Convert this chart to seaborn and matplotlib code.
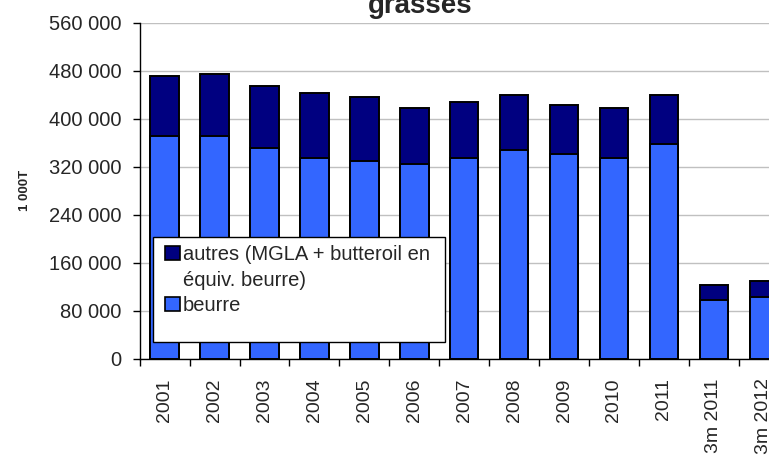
import numpy as np
import pandas as pd
import matplotlib
matplotlib.use("Agg")
import matplotlib.pyplot as plt
from matplotlib.patches import Patch, Rectangle
from matplotlib.ticker import FuncFormatter
import seaborn as sns

# Stocks de matières grasses (1 000 T)
periodes = ["2001", "2002", "2003", "2004", "2005", "2006", "2007", "2008",
            "2009", "2010", "2011", "3m 2011", "3m 2012"]
total = [470700, 474000, 454900, 443000, 437000, 418500, 427800, 440300,
         422200, 418500, 440300, 123600, 129000]
beurre = [370400, 370400, 351000, 334600, 329500, 325000, 334600, 347700,
          341400, 334600, 358500, 98000, 103500]
yticks = [0, 80000, 160000, 240000, 320000, 400000, 480000, 560000]

label_autres = ["autres (MGLA + butteroil en", "équiv. beurre)"]
label_beurre = "beurre"
col_autres = "#000080"
col_beurre = "#3366FF"

df = pd.DataFrame({"periode": periodes, "total": total, "beurre": beurre})

sns.set_style("white")
plt.rcParams["font.family"] = ["Liberation Sans", "DejaVu Sans"]

W, H = 769, 459
fig = plt.figure(figsize=(W / 100, H / 100), dpi=100)
ax = fig.add_axes([139.7 / W, 100.3 / H, 649 / W, 336 / H])

sns.barplot(data=df, x="periode", y="total", order=periodes, color=col_autres,
            saturation=1, width=0.57, edgecolor="black", linewidth=1.4, ax=ax)
sns.barplot(data=df, x="periode", y="beurre", order=periodes, color=col_beurre,
            saturation=1, width=0.57, edgecolor="black", linewidth=1.4, ax=ax)

ax.set_xlim(-0.5, len(periodes) - 0.5)
ax.set_ylim(0, 560000)
ax.set_yticks(yticks)
ax.yaxis.set_major_formatter(FuncFormatter(lambda v, p: f"{int(v):,}".replace(",", " ")))
ax.grid(axis="y", color="#c0c0c0", linewidth=1)
ax.grid(axis="x", visible=False)
ax.set_axisbelow(True)

ax.set_xticks(range(len(periodes)))
ax.set_xticklabels(periodes, rotation=90)
ax.set_xticks(np.arange(-0.5, len(periodes), 1), minor=True)
ax.tick_params(axis="x", which="major", length=0, pad=14, labelsize=14)
ax.tick_params(axis="x", which="minor", length=5, width=1, color="black",
               direction="out", bottom=True)
ax.tick_params(axis="y", length=5, width=1, color="black", direction="out",
               left=True, pad=8, labelsize=14.5)

ax.set_xlabel("")
ax.set_ylabel("")
for side in ("top", "right"):
    ax.spines[side].set_visible(False)
for side in ("left", "bottom"):
    ax.spines[side].set_color("black")
    ax.spines[side].set_linewidth(1)

fig.text(25 / W, 1 - 190 / H, "1 000T", rotation=90, fontsize=9.5,
         fontweight="bold", ha="center", va="center")
fig.text(420 / W, 1 - 13 / H, "grasses", fontsize=20, fontweight="bold",
         ha="center", va="baseline")

# legend box, drawn larger than its entries
box = Rectangle((152.7 / W, 1 - 341.7 / H), (445 - 152.7) / W, (341.7 - 236.7) / H,
                transform=fig.transFigure, facecolor="white", edgecolor="black",
                linewidth=1, zorder=5)
fig.patches.append(box)
handles = [Patch(facecolor=col_autres, edgecolor="black", linewidth=1.2),
           Patch(facecolor="none", edgecolor="none"),
           Patch(facecolor=col_beurre, edgecolor="black", linewidth=1.2)]
leg = fig.legend(handles, label_autres + [label_beurre], loc="upper left",
                 bbox_to_anchor=(165 / W, 1 - 245 / H), frameon=False,
                 fontsize=14.5, borderpad=0, borderaxespad=0, handlelength=0.75,
                 handleheight=0.7, handletextpad=0.15, labelspacing=0.33)
leg.set_zorder(6)

fig.savefig("out.png", dpi=100)
